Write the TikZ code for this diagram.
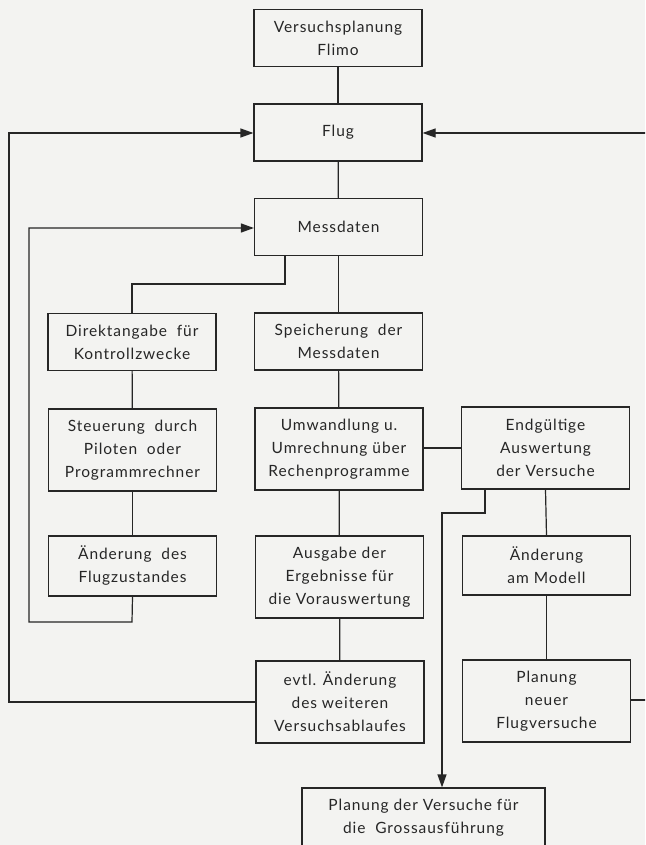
\documentclass[tikz,border=0pt]{standalone}
\usepackage{fontspec}
\setmainfont[LetterSpace=6]{Lato}
\usetikzlibrary{arrows.meta}
\definecolor{ink}{HTML}{262626}
\definecolor{paper}{HTML}{F3F3F1}
\tikzset{
  box/.style={draw=ink, line width=1.2pt, minimum width=168pt, inner sep=0pt,
    align=center, text=ink, font=\fontsize{15.5}{23}\selectfont},
  two/.style={minimum height=57pt},
  three/.style={minimum height=82pt},
  link/.style={draw=ink, line width=1.2pt},
  arr/.style={link, -{Triangle[length=13pt,width=9pt]}}
}
\begin{document}
\begin{tikzpicture}[x=1pt,y=-1pt]
\clip (0,0) rectangle (645,845);
\fill[paper] (0,0) rectangle (645,845);
\node[box,two] (vp) at (338,38) {Versuchsplanung\\Flimo};
\node[box,two] (flug) at (338,132.5) {Flug};
\node[box,two] (mess) at (338.5,227) {Messdaten};
\node[box,two] (direkt) at (132,342) {Direktangabe\ \ für\\Kontrollzwecke};
\node[box,two] (speich) at (338.5,341.5) {Speicherung\ \ der\\Messdaten};
\node[box,three] (steuer) at (132.5,450) {Steuerung\ \ durch\\Piloten\ \ oder\\Programmrechner};
\node[box,three] (umw) at (339,449) {Umwandlung u.\\Umrechnung über\\Rechenprogramme};
\node[box,three] (endg) at (545.5,448) {Endgültige\\Auswertung\\der Versuche};
\node[box,minimum height=60pt] (aend) at (132.5,566) {Änderung\ \ des\\Flugzustandes};
\node[box,three] (ausg) at (339.5,577) {Ausgabe der\\Ergebnisse für\\die Vorauswertung};
\node[box,minimum height=59pt] (modell) at (546.5,565.5) {Änderung\\am Modell};
\node[box,three] (evtl) at (340,702) {evtl. Änderung\\des weiteren\\Versuchsablaufes};
\node[box,three] (neuer) at (546.5,701) {Planung\\neuer\\Flugversuche};
\node[box,minimum width=243pt,minimum height=60pt] (gross) at (423.5,818) {Planung der Versuche für\\die\ \ Grossausführung};
% bend points
\coordinate (m1) at (285,284);
\coordinate (m2) at (132,284);
\coordinate (a1) at (132,622);
\coordinate (a2) at (29,622);
\coordinate (a3) at (29,228);
\coordinate (e1) at (9,702);
\coordinate (e2) at (9,133);
\coordinate (r1) at (655,700);
\coordinate (r2) at (655,133);
\coordinate (g1) at (485,513);
\coordinate (g2) at (442,513);
% connectors
\draw[link] (vp) -- (flug);
\draw[link] (flug) -- (mess);
\draw[link] (mess) -- (speich);
\draw[link] (speich) -- (umw);
\draw[link] (umw) -- (ausg);
\draw[link] (ausg) -- (evtl);
\draw[link] (umw.east |- endg.west) -- (endg.west);
\draw[link] (mess.south -| m1) -- (m1) -- (m2) -- (direkt.north);
\draw[link] (direkt) -- (steuer);
\draw[link] (steuer) -- (aend);
\draw[arr] (aend.south) -- (a1) -- (a2) -- (a3) -- (mess.west |- a3);
\draw[arr] (evtl.west |- e1) -- (e1) -- (e2) -- (flug.west |- e2);
\draw[link] (endg.south) -- (modell.north);
\draw[link] (modell) -- (neuer);
\draw[arr] (neuer.east |- r1) -- (r1) -- (r2) -- (flug.east |- r2);
\draw[arr] (endg.south -| g1) -- (g1) -- (g2) -- (gross.north -| g2);
\end{tikzpicture}
\end{document}
